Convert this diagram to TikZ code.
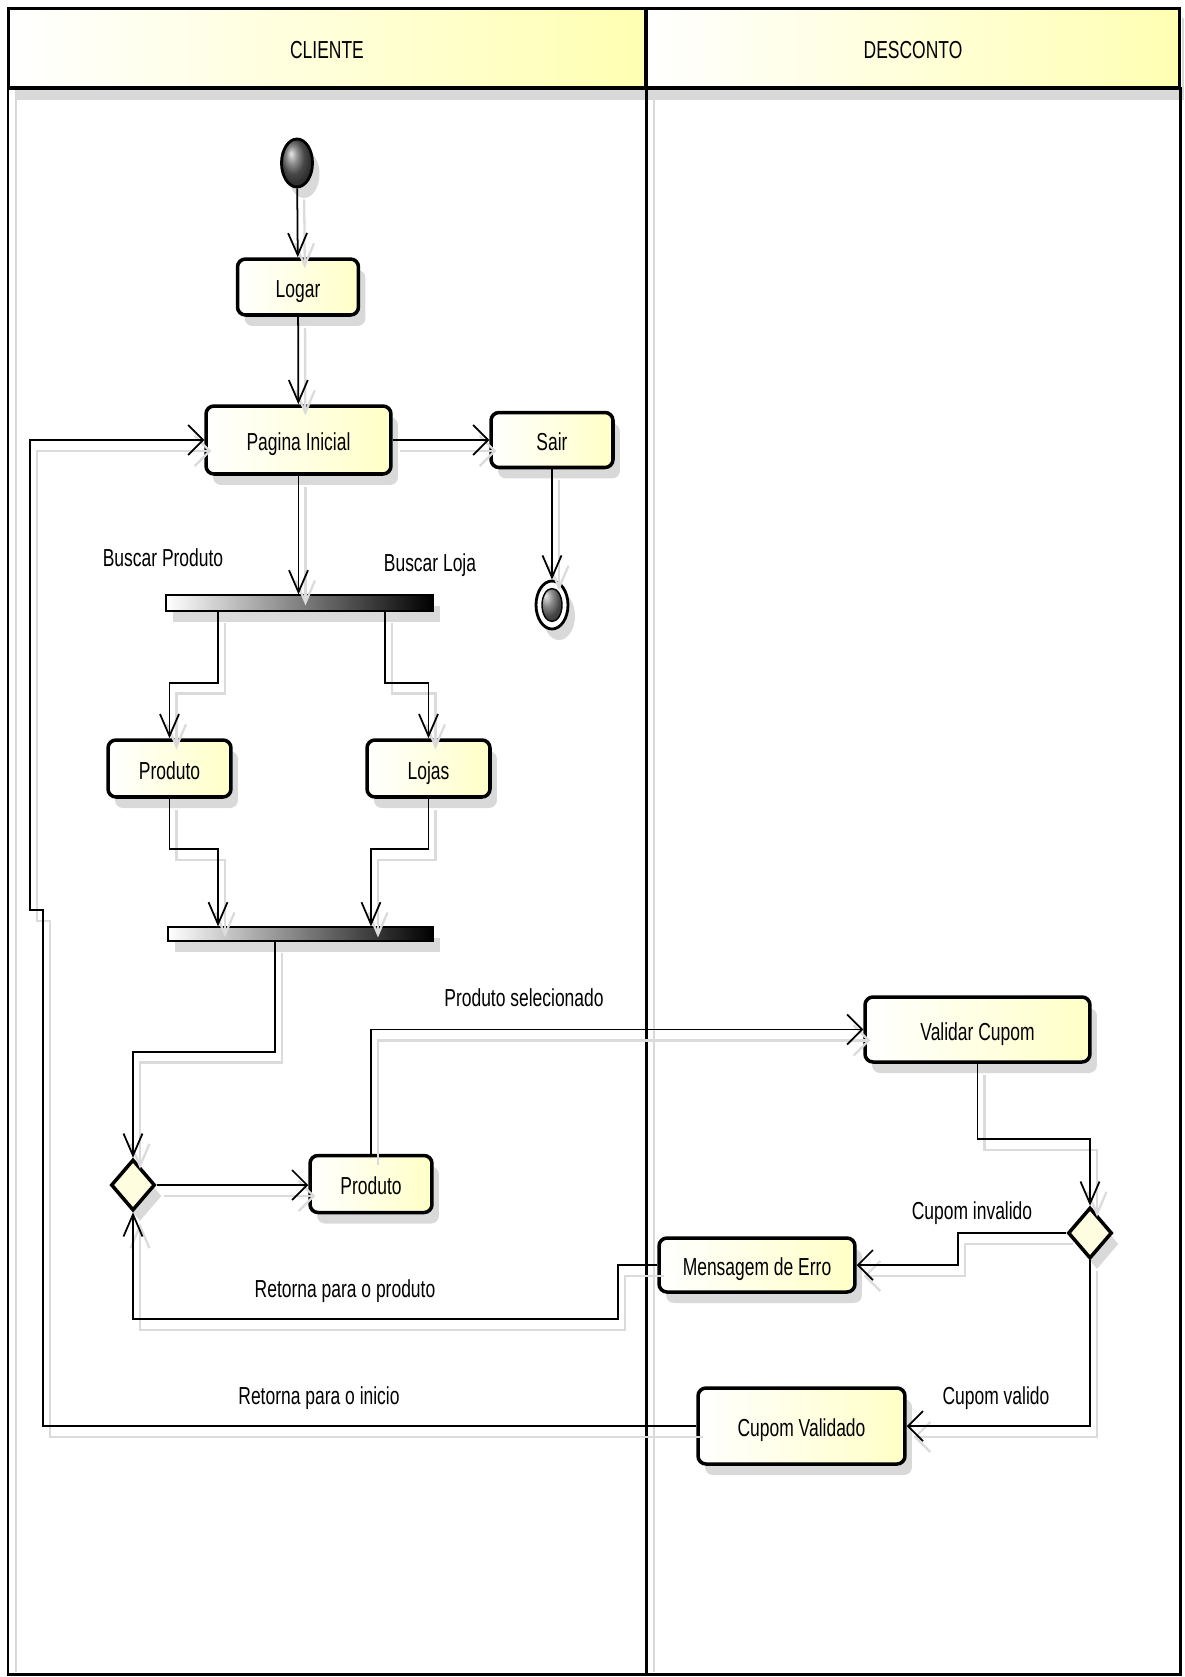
\documentclass[tikz,border=0pt]{standalone}
\usepackage{fontspec}
\setmainfont[FakeStretch=0.71]{Liberation Sans}
\usepackage{tikz}
\usetikzlibrary{shapes,shapes.geometric,arrows.meta,positioning,calc,shadows}

\begin{document}
\begin{tikzpicture}[
    x=0.02cm, y=-0.02cm,
    umlfont/.style={font=\fontsize{14}{16}\selectfont},
    nodeshadow/.style={drop shadow={shadow xshift=0.14cm, shadow yshift=-0.22cm, fill=black!15, opacity=1}},
    action/.style={draw, line width=2pt, rounded corners=0.16cm, align=center, umlfont, inner sep=2pt, text height=12pt, text depth=0pt, left color=white, right color=yellow!22, nodeshadow},
    decision/.style={diamond, draw, line width=2pt, fill=yellow!12, minimum width=0.88cm, minimum height=1.02cm, inner sep=0pt, nodeshadow},
    bar/.style={draw, line width=0.7pt, left color=white, right color=black, inner sep=0pt, nodeshadow},
    startnode/.style={ellipse, draw, line width=1.6pt, shading=ball, ball color=gray!80!black, minimum width=0.62cm, minimum height=0.96cm, inner sep=0pt, nodeshadow},
    endnode/.style={ellipse, draw, line width=1.6pt, fill=white, minimum width=0.64cm, minimum height=0.96cm, inner sep=0pt, nodeshadow,
        path picture={\shade[ball color=gray!80!black, draw=black, line width=0.8pt] (path picture bounding box.center) ellipse (0.2cm and 0.33cm);}},
    lanehead/.style={draw, line width=1.7pt, minimum height=1.6cm, inner sep=0pt, text height=12pt, text depth=0pt, left color=white, right color=yellow!30, umlfont},
    guard/.style={umlfont, inner sep=0pt},
    flow/.style={line width=1pt, preaction={draw=black!14, line width=1.3pt, transform canvas={shift={(0.14cm,-0.22cm)}}}},
    vtip/.style={flow, -{Straight Barb[length=0.44cm, width=0.38cm]}},
    htip/.style={flow, -{Straight Barb[length=0.3cm, width=0.6cm]}}
]
    \useasboundingbox (0,0) rectangle (1185,1677);

    % Lanes
    \fill[black!15] (16,90) rectangle (1180,100);
    \draw[black!15, line width=1.5pt] (16,18) -- (16,1672);
    \draw[black!15, line width=1.5pt] (654,100) -- (654,1672);
    \draw[black!15, line width=1.5pt] (1183,18) -- (1183,100);
    \node[lanehead, minimum width=12.76cm] (hcliente) at (327,48) {CLIENTE};
    \node[lanehead, minimum width=10.68cm] (hdesconto) at (913,48) {DESCONTO};
    \draw[line width=1.7pt] (8,88) rectangle (646,1674);
    \draw[line width=1.7pt] (646,88) rectangle (1180,1674);
    \draw[line width=2.6pt] (8,88) -- (1180,88);

    % Cliente
    \node[startnode] (inicial) at (297,163) {};
    \node[action, minimum width=2.42cm, minimum height=1.12cm] (logar) at (298,287) {Logar};
    \node[action, minimum width=3.7cm, minimum height=1.36cm] (pagina) at (298.5,440) {Pagina Inicial};
    \node[action, minimum width=2.44cm, minimum height=1.1cm] (sair) at (552,440) {Sair};
    \node[endnode] (final) at (552,605) {};
    \node[bar, minimum width=5.34cm, minimum height=0.32cm] (fork) at (299.5,603) {};
    \node[action, minimum width=2.46cm, minimum height=1.14cm] (produto) at (169.5,768.5) {Produto};
    \node[action, minimum width=2.46cm, minimum height=1.14cm] (lojas) at (428.5,768.5) {Lojas};
    \node[bar, minimum width=5.3cm, minimum height=0.28cm] (join) at (300.5,934) {};
    \node[decision] (escolha) at (133,1185) {};
    \node[action, minimum width=2.44cm, minimum height=1.14cm] (produtob) at (371,1184) {Produto};

    % Desconto
    \node[action, minimum width=4.5cm, minimum height=1.3cm] (validar) at (977.5,1029.5) {Validar Cupom};
    \node[decision] (cupom) at (1090,1233) {};
    \node[action, minimum width=3.92cm, minimum height=1.08cm] (erro) at (757,1265) {Mensagem de Erro};
    \node[action, minimum width=4.14cm, minimum height=1.52cm] (validado) at (801.5,1426) {Cupom Validado};

    % Labels
    \node[guard] (lbusprod) at (163,558) {Buscar Produto};
    \node[guard] (lbusloja) at (430,565) {Buscar Loja};
    \node[guard] (lselec) at (524,998) {Produto selecionado};
    \node[guard] (linval) at (972,1213) {Cupom invalido};
    \node[guard] (lretprod) at (345,1291) {Retorna para o produto};
    \node[guard] (lval) at (996,1398) {Cupom valido};
    \node[guard] (lretini) at (319,1398) {Retorna para o inicio};

    % Edges
    \draw[vtip] (inicial) -- (logar);
    \draw[vtip] (logar) -- (pagina);
    \draw[htip] (pagina) -- (sair);
    \draw[vtip] (sair) -- (final);
    \draw[vtip] (pagina.south) -- (pagina.south |- fork.north);
    \draw[vtip] ([xshift=-1.63cm]fork.south) -- ++(0,71) -| (produto);
    \draw[vtip] ([xshift=1.71cm]fork.south) -- ++(0,71) -| (lojas);
    \draw[vtip] (produto.south) -- ++(0,50) -| ([xshift=-1.65cm]join.north);
    \draw[vtip] (lojas.south) -- ++(0,50) -| ([xshift=1.41cm]join.north);
    \draw[vtip] ([xshift=-0.51cm]join.south) -- ++(0,110) -| (escolha);
    \draw[htip] (escolha.east) -- (escolha.east -| produtob.west);
    \draw[htip] (produtob.north) |- (validar.west);
    \draw[vtip] (validar.south) -- ++(0,75) -| (cupom);
    \draw[htip] (cupom.west) -- ++(-108,0) |- (erro.east);
    \draw[vtip] (erro.west) -- ++(-39,0) -- ++(0,54) -| (escolha.south);
    \draw[htip] (cupom.south) |- (validado.east);
    \draw[htip] (validado.west) -| (43,910) -- (30,910) |- (pagina.west);

\end{tikzpicture}
\end{document}
